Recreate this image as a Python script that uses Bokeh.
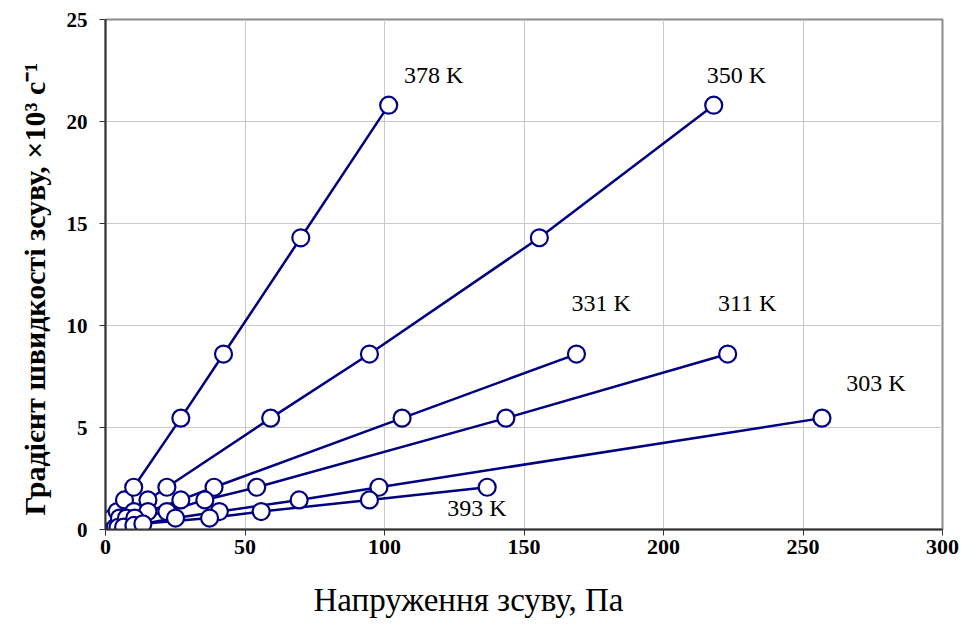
from bokeh.plotting import figure
from bokeh.models import Range1d, FixedTicker, ColumnDataSource, Title
from bokeh.core.properties import value
from bokeh.embed import file_html
from bokeh.resources import INLINE

# Shear stress (Pa) and shear-rate gradient (x10^3 1/s) for each temperature
x_378 = [2.0, 2.4, 4.2, 6.8, 10.1, 27.0, 42.3, 70.0, 101.5]
y_378 = [0.10, 0.56, 0.88, 1.45, 2.07, 5.46, 8.60, 14.30, 20.80]

x_350 = [3.5, 5.0, 10.2, 15.2, 22.0, 59.2, 94.6, 155.5, 218.0]
y_350 = [0.10, 0.56, 0.88, 1.45, 2.07, 5.46, 8.60, 14.30, 20.80]

x_331 = [4.5, 7.5, 15.2, 27.0, 38.9, 106.3, 168.8]
y_331 = [0.10, 0.56, 0.88, 1.45, 2.07, 5.46, 8.60]

x_311 = [6.5, 10.5, 22.0, 35.6, 54.2, 143.5, 223.0]
y_311 = [0.12, 0.56, 0.88, 1.45, 2.07, 5.46, 8.60]

x_303 = [10.2, 25.1, 40.8, 69.4, 98.0, 256.8]
y_303 = [0.20, 0.56, 0.88, 1.45, 2.07, 5.46]

x_393 = [13.4, 37.3, 55.8, 94.6, 136.8]
y_393 = [0.28, 0.56, 0.88, 1.45, 2.07]

series = [(x_378, y_378), (x_350, y_350), (x_331, y_331),
          (x_311, y_311), (x_303, y_303), (x_393, y_393)]

label_text = ["378 K", "350 K", "331 K", "311 K", "303 K", "393 K"]
label_x = [107.0, 215.5, 167.0, 219.5, 265.5, 122.5]
label_y = [22.3, 22.3, 11.1, 11.1, 7.2, 1.05]

x_ticks = [0, 50, 100, 150, 200, 250, 300]
y_ticks = [0, 5, 10, 15, 20, 25]

x_title = "Напруження зсуву, Па"
y_title = "Градієнт швидкості зсуву, ×10³ с⁻¹"

NAVY = "#000080"
FONT = "Liberation Serif"

p = figure(frame_width=837, frame_height=510,
           min_border_left=105, min_border_top=19, min_border_right=25,
           min_border_bottom=100,
           x_range=Range1d(0, 300), y_range=Range1d(0, 25),
           output_backend="svg", toolbar_location=None)

p.background_fill_color = "white"
p.border_fill_color = "white"
p.outline_line_color = "#8c8c8c"
p.outline_line_width = 2

p.xgrid.grid_line_color = "#c8c8c8"
p.ygrid.grid_line_color = "#c8c8c8"
p.xgrid.grid_line_width = 1
p.ygrid.grid_line_width = 1

p.xaxis.ticker = FixedTicker(ticks=x_ticks)
p.yaxis.ticker = FixedTicker(ticks=y_ticks)

for ax in (p.xaxis, p.yaxis):
    ax.axis_line_color = "#333333"
    ax.axis_line_width = 2
    ax.major_tick_line_color = "#333333"
    ax.major_tick_line_width = 1
    ax.major_tick_out = 6
    ax.major_tick_in = 0
    ax.minor_tick_line_color = None
    ax.major_label_text_font = FONT
    ax.major_label_text_font_style = "bold"
    ax.major_label_text_color = "black"

p.xaxis.major_label_text_font_size = "22px"
p.yaxis.major_label_text_font_size = "21px"
p.xaxis.major_label_standoff = 4
p.yaxis.major_label_standoff = 12

p.add_layout(Title(text=x_title, align="left", offset=208, standoff=47,
                   text_font=FONT, text_font_size="33px",
                   text_font_style="normal", text_color="black"), "below")
p.add_layout(Title(text=y_title, align="left", offset=14, standoff=25,
                   text_font=FONT, text_font_size="30px",
                   text_font_style="bold", text_color="black"), "left")

for xs, ys in series:
    src = ColumnDataSource(dict(x=xs, y=ys))
    p.line("x", "y", source=src, line_color=NAVY, line_width=2.5)
for xs, ys in series:
    src = ColumnDataSource(dict(x=xs, y=ys))
    p.scatter("x", "y", source=src, marker="circle", size=17,
              fill_color="white", line_color=NAVY, line_width=2.2)

lab_src = ColumnDataSource(dict(x=label_x, y=label_y, t=label_text))
p.text("x", "y", text="t", source=lab_src, text_font=value(FONT),
       text_font_size="24px", text_color="black",
       text_align="left", text_baseline="middle")

open("out.html", "w").write(file_html(p, INLINE))
